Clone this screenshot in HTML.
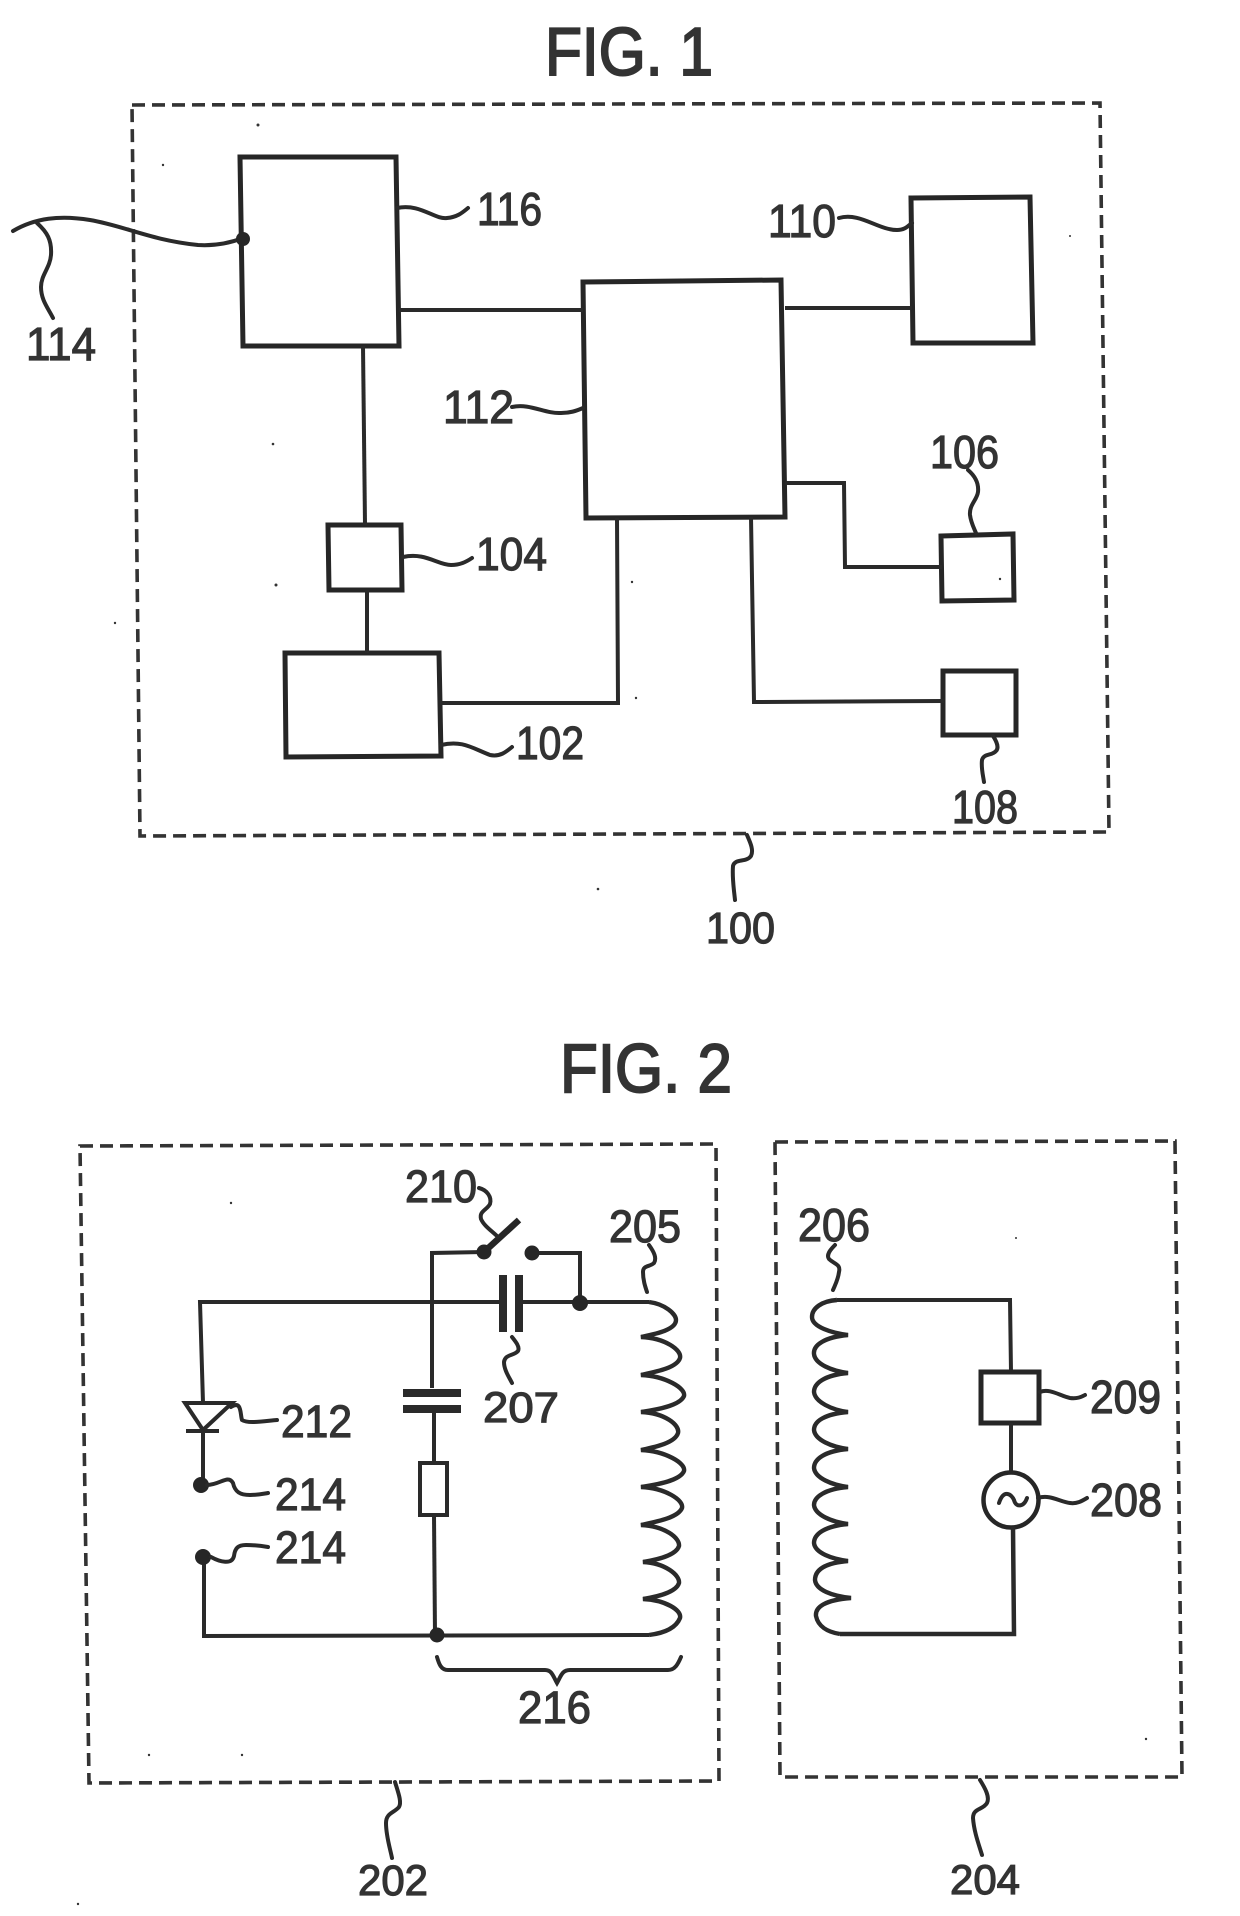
<!DOCTYPE html>
<html>
<head>
<meta charset="utf-8">
<style>
html,body{margin:0;padding:0;background:#fff;}
svg{display:block;}
text{font-family:"Liberation Sans",sans-serif;fill:#333;stroke:#333;stroke-width:1.2;}
text.f{stroke-width:2;}
.b{fill:none;stroke:#262626;stroke-width:5;stroke-linejoin:miter;}
.w{fill:none;stroke:#2a2a2a;stroke-width:4;stroke-linejoin:miter;}
.l{fill:none;stroke:#2a2a2a;stroke-width:4;stroke-linecap:round;}
.d{fill:none;stroke:#333;stroke-width:3.6;stroke-dasharray:13 7;}
.c{fill:none;stroke:#2a2a2a;stroke-width:4.4;}
.p{fill:#262626;stroke:none;}
.s{fill:#333;stroke:none;}
</style>
</head>
<body>
<svg width="1240" height="1916" viewBox="0 0 1240 1916" xmlns="http://www.w3.org/2000/svg">
<rect width="1240" height="1916" fill="#fff"/>

<!-- FIG 1 -->
<text class="f" x="545" y="75" font-size="68" textLength="168" lengthAdjust="spacingAndGlyphs">FIG. 1</text>
<path class="d" d="M132,105 L1100,103 L1109,832 L140,836 Z"/>

<path class="b" d="M240,157 L396,157 L399,346 L243,346 Z"/>
<path class="b" d="M583,282 L781,280 L785,517 L586,518 Z"/>
<path class="b" d="M911,198 L1030,197 L1033,343 L913,343 Z"/>
<path class="b" d="M328,525 L401,525 L402,590 L329,590 Z"/>
<path class="b" d="M285,653 L439,653 L441,756 L286,757 Z"/>
<path class="b" d="M941,536 L1013,534 L1014,600 L942,601 Z"/>
<path class="b" d="M943,671 L1016,671 L1016,735 L943,735 Z"/>

<path class="w" d="M399,310 L583,310"/>
<path class="w" d="M785,308 L912,308"/>
<path class="w" d="M363,346 L365,525"/>
<path class="w" d="M367,590 L367,653"/>
<path class="w" d="M440,703 L618,703 L617,518"/>
<path class="w" d="M785,483 L844,483 L845,567 L942,567"/>
<path class="w" d="M751,517 L754,702 L944,701"/>

<path class="l" d="M13,231 C35,218 60,215 90,220 C125,226 150,240 198,245 C215,246 230,243 243,238"/>
<circle class="p" cx="243" cy="239" r="7"/>
<path class="l" d="M37,223 C47,232 52,240 51,255 C50,268 41,275 41,287 C41,300 48,308 53,318"/>
<path class="l" d="M397,208 C420,203 435,220 447,218 C458,217 463,212 468,208"/>
<path class="l" d="M839,218 C860,212 878,230 897,230 C905,230 908,226 912,223"/>
<path class="l" d="M512,407 C530,403 545,414 561,413 C570,413 576,411 583,408"/>
<path class="l" d="M403,557 C425,552 438,565 451,565 C460,565 466,562 472,558"/>
<path class="l" d="M441,745 C462,740 472,748 490,755 C500,757 506,752 512,747"/>
<path class="l" d="M968,470 C975,476 979,483 978,492 C977,500 969,505 970,515 C971,523 974,528 976,533"/>
<path class="l" d="M993,736 C997,742 999,748 996,751 C992,756 984,753 982,760 C981,768 983,775 984,782"/>
<path class="l" d="M747,835 C750,842 754,850 751,856 C746,863 735,858 733,866 C732,878 734,890 735,900"/>

<text x="26" y="360" font-size="46" textLength="70" lengthAdjust="spacingAndGlyphs">114</text>
<text x="477" y="225" font-size="46" textLength="65" lengthAdjust="spacingAndGlyphs">116</text>
<text x="768" y="237" font-size="46" textLength="68" lengthAdjust="spacingAndGlyphs">110</text>
<text x="443" y="423" font-size="46" textLength="71" lengthAdjust="spacingAndGlyphs">112</text>
<text x="476" y="570" font-size="46" textLength="71" lengthAdjust="spacingAndGlyphs">104</text>
<text x="516" y="759" font-size="46" textLength="68" lengthAdjust="spacingAndGlyphs">102</text>
<text x="930" y="468" font-size="46" textLength="69" lengthAdjust="spacingAndGlyphs">106</text>
<text x="952" y="823" font-size="46" textLength="66" lengthAdjust="spacingAndGlyphs">108</text>
<text x="706" y="943" font-size="44" textLength="69" lengthAdjust="spacingAndGlyphs">100</text>

<!-- FIG 2 -->
<text class="f" x="560" y="1092" font-size="69" textLength="172" lengthAdjust="spacingAndGlyphs">FIG. 2</text>
<path class="d" d="M80,1146 L716,1144 L719,1781 L89,1783 Z"/>
<path class="d" d="M775,1142 L1175,1141 L1182,1777 L780,1777 Z"/>

<!-- left circuit wires -->
<path class="w" d="M432,1388 L432,1253 L484,1252"/>
<path class="w" d="M532,1253 L580,1253 L580,1303"/>
<path class="w" d="M203,1403 L200,1302 L503,1302"/>
<path class="w" d="M519,1302 L649,1302"/>
<path class="w" d="M203,1431 L203,1485"/>
<path class="w" d="M204,1557 L204,1636 L649,1635"/>
<path class="w" d="M434,1409 L434,1463"/>
<path class="w" d="M434,1515 L435,1635"/>
<path class="w" d="M420,1463 L447,1463 L447,1515 L420,1515 Z"/>

<path d="M484,1252 L519,1220" fill="none" stroke="#262626" stroke-width="6.5"/>
<circle class="p" cx="484" cy="1252" r="7.5"/>
<circle class="p" cx="532" cy="1253" r="7.5"/>
<circle class="p" cx="580" cy="1303" r="8"/>
<circle class="p" cx="201" cy="1485" r="8"/>
<circle class="p" cx="203" cy="1557" r="8"/>
<circle class="p" cx="437" cy="1635" r="7.5"/>

<path d="M503,1275 L503,1332 M519,1275 L519,1332" fill="none" stroke="#2a2a2a" stroke-width="8"/>
<path d="M403,1393 L461,1393 M403,1409 L461,1409" fill="none" stroke="#2a2a2a" stroke-width="8"/>

<path class="w" d="M185,1403 L232,1403 L203,1430 Z"/>
<path class="w" d="M186,1431 L219,1431" stroke-width="5"/>

<!-- coil 205 -->
<path class="c" d="M649,1302 C665,1304 676,1314 676,1320 C676,1330 655,1334 641,1337
C665,1338 682,1350 680,1358 C677,1368 655,1372 641,1375
C665,1376 686,1388 684,1396 C680,1406 655,1410 641,1412
C665,1413 680,1425 678,1433 C675,1443 655,1447 641,1450
C665,1451 686,1463 684,1471 C680,1481 655,1485 641,1487
C665,1488 684,1500 682,1508 C678,1518 655,1522 641,1525
C665,1526 680,1538 679,1546 C676,1556 655,1560 643,1562
C665,1563 680,1575 679,1583 C676,1593 655,1597 643,1599
C665,1600 682,1610 680,1618 C676,1628 665,1633 649,1635"/>

<path class="l" d="M437,1657 C439,1664 441,1670 448,1670 L545,1670 C552,1670 553,1676 557,1683 C561,1676 562,1670 570,1670 L668,1670 C675,1670 678,1664 681,1657"/>

<path class="l" d="M479,1188 C487,1190 492,1197 490,1204 C487,1210 479,1211 481,1219 C484,1226 492,1231 498,1237"/>
<path class="l" d="M649,1245 C654,1252 657,1258 654,1263 C650,1267 643,1265 643,1272 C643,1280 645,1286 647,1292"/>
<path class="l" d="M512,1337 C516,1342 520,1347 518,1351 C514,1356 505,1354 504,1362 C504,1370 509,1377 512,1383"/>
<path class="l" d="M231,1407 C242,1400 240,1414 242,1420 C248,1424 265,1421 277,1420"/>
<path class="l" d="M207,1485 C220,1485 228,1474 233,1483 C235,1492 240,1495 250,1495 C258,1495 262,1494 268,1493"/>
<path class="l" d="M211,1557 C220,1562 232,1565 234,1556 C235,1548 238,1545 246,1545 C254,1545 262,1546 268,1547"/>
<path class="l" d="M395,1782 C398,1792 402,1802 399,1807 C394,1813 386,1813 386,1823 C386,1836 390,1848 392,1858"/>

<text x="405" y="1202" font-size="45" textLength="72" lengthAdjust="spacingAndGlyphs">210</text>
<text x="609" y="1242" font-size="45" textLength="72" lengthAdjust="spacingAndGlyphs">205</text>
<text x="483" y="1422" font-size="43" textLength="76" lengthAdjust="spacingAndGlyphs">207</text>
<text x="281" y="1437" font-size="45" textLength="71" lengthAdjust="spacingAndGlyphs">212</text>
<text x="275" y="1510" font-size="45" textLength="71" lengthAdjust="spacingAndGlyphs">214</text>
<text x="275" y="1563" font-size="45" textLength="71" lengthAdjust="spacingAndGlyphs">214</text>
<text x="518" y="1723" font-size="45" textLength="73" lengthAdjust="spacingAndGlyphs">216</text>
<text x="358" y="1895" font-size="43" textLength="70" lengthAdjust="spacingAndGlyphs">202</text>

<!-- right circuit -->
<path class="w" d="M837,1300 L1010,1300 L1011,1372"/>
<path class="b" d="M981,1372 L1039,1372 L1039,1423 L981,1423 Z"/>
<path class="w" d="M1011,1423 L1011,1473"/>
<circle cx="1011" cy="1500" r="27.5" fill="none" stroke="#262626" stroke-width="4.5"/>
<path class="l" d="M999,1503 C1004,1488 1012,1495 1014,1500 C1016,1508 1024,1507 1027,1498"/>
<path d="M1013,1527 L1014,1634 L840,1634" fill="none" stroke="#2a2a2a" stroke-width="4.5"/>

<path class="c" d="M837,1300 C822,1301 812,1308 812,1317 C812,1327 832,1333 848,1335
C825,1337 813,1345 814,1354 C815,1364 832,1371 848,1373
C825,1375 814,1383 814,1392 C815,1402 832,1410 848,1412
C825,1414 814,1421 814,1430 C815,1440 832,1447 848,1449
C825,1451 814,1459 814,1468 C815,1478 832,1485 848,1487
C825,1489 814,1497 814,1505 C815,1515 832,1522 848,1524
C825,1526 814,1534 814,1543 C815,1553 832,1559 848,1561
C825,1563 815,1570 815,1580 C816,1590 832,1596 851,1598
C825,1600 815,1607 816,1616 C818,1626 827,1632 840,1634"/>

<path class="l" d="M835,1245 C830,1250 826,1255 829,1259 C834,1264 841,1264 839,1272 C838,1280 835,1285 833,1290"/>
<path class="l" d="M1040,1392 C1050,1388 1060,1396 1070,1398 C1077,1399 1081,1397 1085,1395"/>
<path class="l" d="M1038,1498 C1050,1494 1060,1502 1070,1503 C1077,1504 1082,1501 1087,1498"/>
<path class="l" d="M980,1780 C985,1788 990,1797 987,1803 C983,1810 973,1808 973,1818 C974,1832 979,1845 982,1855"/>

<text x="798" y="1241" font-size="46" textLength="72" lengthAdjust="spacingAndGlyphs">206</text>
<text x="1090" y="1413" font-size="46" textLength="71" lengthAdjust="spacingAndGlyphs">209</text>
<text x="1090" y="1516" font-size="46" textLength="72" lengthAdjust="spacingAndGlyphs">208</text>
<text x="950" y="1894" font-size="42" textLength="70" lengthAdjust="spacingAndGlyphs">204</text>

<!-- speckles -->
<circle class="s" cx="258" cy="125" r="1.5"/><circle class="s" cx="163" cy="165" r="1.2"/>
<circle class="s" cx="273" cy="444" r="1.3"/><circle class="s" cx="276" cy="585" r="1.5"/>
<circle class="s" cx="115" cy="623" r="1.2"/><circle class="s" cx="632" cy="582" r="1.2"/>
<circle class="s" cx="636" cy="698" r="1.2"/><circle class="s" cx="598" cy="889" r="1.3"/>
<circle class="s" cx="1000" cy="579" r="1.2"/><circle class="s" cx="1070" cy="236" r="1"/>
<circle class="s" cx="231" cy="1203" r="1.2"/><circle class="s" cx="149" cy="1755" r="1.2"/>
<circle class="s" cx="242" cy="1755" r="1.2"/><circle class="s" cx="78" cy="1904" r="1.2"/>
<circle class="s" cx="1016" cy="1238" r="1"/><circle class="s" cx="1146" cy="1739" r="1.2"/>
</svg>
</body>
</html>
